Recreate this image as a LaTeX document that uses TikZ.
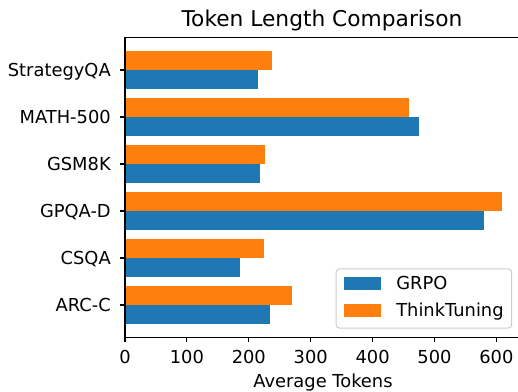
\documentclass[tikz,border=0pt]{standalone}
\usepackage{fontspec}
\setmainfont{DejaVu Sans}
\definecolor{tabblue}{HTML}{1F77B4}
\definecolor{taborange}{HTML}{FF7F0E}
\definecolor{legedge}{HTML}{CCCCCC}
\begin{document}
\begin{tikzpicture}[x=0.75pt,y=-0.75pt,
  lbl/.style={font=\fontsize{13.4}{15}\selectfont, inner sep=0pt, text=black},
  ttl/.style={font=\fontsize{16.3}{19}\selectfont, inner sep=0pt, text=black},
  spine/.style={line width=0.83pt, black},
  tickmark/.style={line width=0.83pt, black}]
\useasboundingbox (0,0) rectangle (518,392);
\begin{scope}
\clip (0,0) rectangle (518,392);
% bars, y ticks, y labels
\foreach \c/\g/\t/\n [count=\i] in {70/215/238/StrategyQA, 117/475/458/MATH-500, 164/218/226/GSM8K, 211/580/609/GPQA-D, 258/186/224/CSQA, 305/234/270/ARC-C} {
  \fill[taborange] (125,\c-18.8) rectangle ({125+0.619*\t},\c);
  \fill[tabblue] (125,\c) rectangle ({125+0.619*\g},\c+18.8);
  \draw[tickmark] (125,\c) -- (120.1,\c);
  \node[lbl, anchor=base east] (y\i) at (111,\c+6.5) {\n};
}
% spines
\draw[spine] (125,337.4) -- (125,37.6) -- (525,37.6);
\draw[spine] (125,337.4) -- (525,337.4);
% x ticks
\foreach \v in {0,100,...,600} {
  \draw[tickmark] ({125+0.619*\v},337.4) -- ++(0,4.9);
  \node[lbl, anchor=base] (x\v) at ({125+0.619*\v},363.3) {\v};
}
\node[lbl, anchor=base] (xlabel) at (323,387.7) {Average Tokens};
\node[ttl, anchor=base] (title) at (322,26.7) {Token Length Comparison};
% legend
\draw[rounded corners=2.5, draw=legedge, fill=white, line width=0.75pt] (336,269) rectangle (511.7,328);
\fill[tabblue] (344,277) rectangle (381,289.7);
\fill[taborange] (344,304) rectangle (381,316.7);
\node[lbl, anchor=base west] (lg1) at (396,289.7) {GRPO};
\node[lbl, anchor=base west] (lg2) at (396,316) {ThinkTuning};
\end{scope}
\end{tikzpicture}
\end{document}
